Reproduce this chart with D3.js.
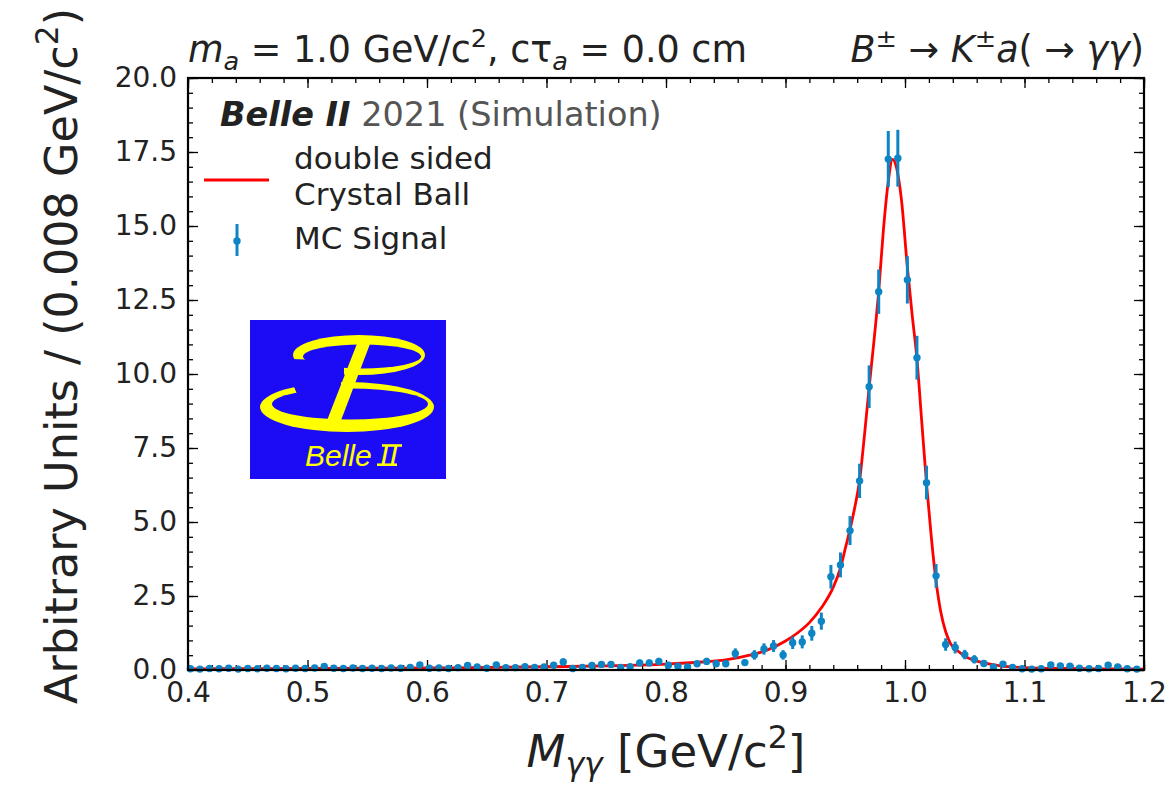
<!DOCTYPE html>
<html>
<head>
  <meta charset="utf-8" />
  <title>Belle II - M gamma gamma signal fit</title>
  <script src="https://d3js.org/d3.v7.min.js"></script>
  <style>
    body { margin: 0; background: #fff; }
    text { font-family: "DejaVu Sans", sans-serif; fill: #222; }
  </style>
</head>
<body>
  <div id="chart"></div>
  <script>
    // bin centres of the 0.008 GeV/c2 histogram
    var binCenters = [
      0.402,0.410,0.418,0.426,0.434,0.442,0.450,0.458,0.466,0.474,
      0.482,0.490,0.498,0.506,0.514,0.522,0.530,0.538,0.546,0.554,
      0.562,0.570,0.578,0.586,0.594,0.602,0.610,0.618,0.626,0.634,
      0.642,0.650,0.658,0.666,0.674,0.682,0.690,0.698,0.706,0.714,
      0.722,0.730,0.738,0.746,0.754,0.762,0.770,0.778,0.786,0.794,
      0.802,0.810,0.818,0.826,0.834,0.842,0.850,0.858,0.866,0.874,
      0.882,0.890,0.898,0.906,0.914,0.922,0.930,0.938,0.946,0.954,
      0.962,0.970,0.978,0.986,0.994,1.002,1.010,1.018,1.026,1.034,
      1.042,1.050,1.058,1.066,1.074,1.082,1.090,1.098,1.106,1.114,
      1.122,1.130,1.138,1.146,1.154,1.162,1.170,1.178,1.186,1.194
    ];
    // MC signal (arbitrary units)
    var mcValues = [
      0.04,0.03,0.05,0.04,0.06,0.03,0.05,0.04,0.06,0.05,
      0.04,0.06,0.05,0.07,0.12,0.06,0.05,0.07,0.05,0.06,
      0.05,0.07,0.06,0.09,0.17,0.06,0.07,0.05,0.08,0.15,
      0.10,0.06,0.17,0.08,0.08,0.11,0.09,0.10,0.16,0.27,
      0.05,0.09,0.15,0.19,0.19,0.09,0.11,0.24,0.24,0.29,
      0.16,0.13,0.10,0.21,0.29,0.21,0.21,0.56,0.25,0.51,
      0.71,0.81,0.51,0.92,0.95,1.24,1.65,3.15,3.55,4.71,
      6.39,9.57,12.78,17.26,17.29,13.18,10.55,6.33,3.18,0.86,
      0.76,0.52,0.36,0.22,0.10,0.20,0.09,0.04,0.03,0.04,
      0.17,0.14,0.13,0.06,0.04,0.05,0.16,0.10,0.04,0.03
    ];
    var mcErrors = [
      0.04,0.04,0.05,0.04,0.05,0.04,0.05,0.04,0.05,0.05,
      0.04,0.05,0.05,0.06,0.08,0.05,0.05,0.06,0.05,0.05,
      0.05,0.06,0.05,0.07,0.09,0.05,0.06,0.05,0.06,0.09,
      0.07,0.05,0.09,0.06,0.06,0.07,0.07,0.07,0.09,0.12,
      0.05,0.07,0.09,0.10,0.10,0.07,0.07,0.11,0.11,0.12,
      0.09,0.08,0.07,0.10,0.12,0.10,0.10,0.17,0.11,0.16,
      0.19,0.20,0.16,0.21,0.22,0.25,0.29,0.40,0.42,0.49,
      0.58,0.72,0.75,0.95,0.96,0.80,0.74,0.57,0.40,0.21,
      0.20,0.16,0.14,0.11,0.07,0.10,0.07,0.05,0.04,0.05,
      0.09,0.08,0.08,0.05,0.05,0.05,0.09,0.07,0.05,0.04
    ];
    // double sided Crystal Ball fit
    var fitX = [0.40,0.45,0.50,0.55,0.60,0.65,0.70,0.75,0.80,0.83,0.85,0.87,0.885,0.90,0.91,0.92,0.93,0.94,
      0.946,0.95,0.954,0.958,0.962,0.966,0.970,0.974,0.978,0.982,0.986,0.9895,0.993,0.997,1.002,1.006,
      1.010,1.014,1.018,1.022,1.026,1.030,1.034,1.038,1.044,1.052,1.060,1.068,1.080,1.100,1.130,1.160,1.200];
    var fitY = [0.04,0.045,0.05,0.06,0.07,0.085,0.11,0.14,0.20,0.27,0.34,0.50,0.68,0.98,1.25,1.6,2.1,2.8,
      3.45,4.1,4.75,5.5,6.4,7.9,9.55,11.1,12.8,14.9,16.5,17.25,16.95,15.9,13.6,12.0,
      10.5,8.4,6.3,4.5,3.0,1.95,1.3,0.9,0.65,0.42,0.3,0.22,0.14,0.08,0.05,0.04,0.03];

    var xTicks = [0.4, 0.5, 0.6, 0.7, 0.8, 0.9, 1.0, 1.1, 1.2];
    var yTicks = [0, 2.5, 5, 7.5, 10, 12.5, 15, 17.5, 20];

    var W = 1169, H = 785;
    var pL = 188, pR = 1144, pT = 78, pB = 670;
    var blue = "#0d84c3", red = "#ff0000";

    var svg = d3.select("#chart").append("svg")
      .attr("width", W).attr("height", H);

    var x = d3.scaleLinear().domain([0.4, 1.2]).range([pL, pR]);
    var y = d3.scaleLinear().domain([0, 20]).range([pB, pT]);

    function styleAxis(g) {
      g.select(".domain").remove();
      g.attr("font-size", 28).attr("font-family", "DejaVu Sans, sans-serif");
      g.selectAll(".tick line").attr("stroke", "#000").attr("stroke-width", 1.3);
      g.selectAll(".tick text").attr("fill", "#222");
    }

    // minor ticks
    var xMinor = x.ticks(40), yMinor = y.ticks(40);
    svg.append("g").attr("transform", "translate(0," + pB + ")")
      .call(d3.axisBottom(x).tickValues(xMinor).tickSize(-5).tickFormat(""))
      .call(styleAxis);
    svg.append("g").attr("transform", "translate(0," + pT + ")")
      .call(d3.axisTop(x).tickValues(xMinor).tickSize(-5).tickFormat(""))
      .call(styleAxis);
    svg.append("g").attr("transform", "translate(" + pL + ",0)")
      .call(d3.axisLeft(y).tickValues(yMinor).tickSize(-5).tickFormat(""))
      .call(styleAxis);
    svg.append("g").attr("transform", "translate(" + pR + ",0)")
      .call(d3.axisRight(y).tickValues(yMinor).tickSize(-5).tickFormat(""))
      .call(styleAxis);

    // major ticks
    svg.append("g").attr("transform", "translate(0," + pB + ")")
      .call(d3.axisBottom(x).tickValues(xTicks).tickSize(-10).tickPadding(12).tickFormat(d3.format(".1f")))
      .call(styleAxis);
    svg.append("g").attr("transform", "translate(0," + pT + ")")
      .call(d3.axisTop(x).tickValues(xTicks).tickSize(-10).tickFormat(""))
      .call(styleAxis);
    svg.append("g").attr("transform", "translate(" + pL + ",0)")
      .call(d3.axisLeft(y).tickValues(yTicks).tickSize(-10).tickPadding(11).tickFormat(d3.format(".1f")))
      .call(styleAxis);
    svg.append("g").attr("transform", "translate(" + pR + ",0)")
      .call(d3.axisRight(y).tickValues(yTicks).tickSize(-10).tickFormat(""))
      .call(styleAxis);

    // fit curve
    var line = d3.line()
      .x(function (d, i) { return x(fitX[i]); })
      .y(function (d) { return y(d); })
      .curve(d3.curveMonotoneX);
    svg.append("path")
      .datum(fitY)
      .attr("fill", "none")
      .attr("stroke", red)
      .attr("stroke-width", 2.8)
      .attr("d", line);

    // MC points with error bars
    var pts = svg.append("g");
    pts.selectAll(".err").data(mcValues).enter().append("line")
      .attr("class", "err")
      .attr("x1", function (d, i) { return x(binCenters[i]); })
      .attr("x2", function (d, i) { return x(binCenters[i]); })
      .attr("y1", function (d, i) { return y(d - mcErrors[i]); })
      .attr("y2", function (d, i) { return y(d + mcErrors[i]); })
      .attr("stroke", blue).attr("stroke-width", 3);
    pts.selectAll(".dot").data(mcValues).enter().append("circle")
      .attr("class", "dot")
      .attr("cx", function (d, i) { return x(binCenters[i]); })
      .attr("cy", function (d) { return y(d); })
      .attr("r", 3.7)
      .attr("fill", blue);

    // frame
    svg.append("rect")
      .attr("x", pL).attr("y", pT)
      .attr("width", pR - pL).attr("height", pB - pT)
      .attr("fill", "none").attr("stroke", "#000").attr("stroke-width", 2.2);

    // text with sub/superscripts
    function mathText(t, parts, size, subShift) {
      var cur = 0;
      parts.forEach(function (p) {
        var s = t.append("tspan").text(p.t);
        var shift = 0;
        if (p.sub) { s.attr("font-size", size * 0.7); shift = size * (subShift || 0.22); }
        if (p.sup) { s.attr("font-size", size * 0.7); shift = -size * 0.42; }
        if (shift - cur !== 0) s.attr("dy", shift - cur);
        cur = shift;
        if (p.i) s.attr("font-style", "italic");
      });
    }

    var tSize = 36.5;
    var t1 = svg.append("text").attr("x", pL).attr("y", 62).attr("font-size", tSize);
    mathText(t1, [{t: "m", i: 1}, {t: "a", i: 1, sub: 1}, {t: " = 1.0 GeV/c"}, {t: "2", sup: 1},
      {t: ", cτ"}, {t: "a", i: 1, sub: 1}, {t: " = 0.0 cm"}], tSize);

    var t2 = svg.append("text").attr("x", pR).attr("y", 62).attr("font-size", tSize)
      .attr("text-anchor", "end");
    mathText(t2, [{t: "B", i: 1}, {t: "±", sup: 1}, {t: " → "}, {t: "K", i: 1}, {t: "±", sup: 1},
      {t: "a", i: 1}, {t: "( → "}, {t: "γγ", i: 1}, {t: ")"}], tSize);

    var xl = svg.append("text").attr("x", (pL + pR) / 2).attr("y", 767)
      .attr("font-size", 45).attr("text-anchor", "middle");
    mathText(xl, [{t: "M", i: 1}, {t: "γγ", i: 1, sub: 1}, {t: " [GeV/c"}, {t: "2", sup: 1}, {t: "]"}], 45, 0.17);

    var yl = svg.append("text")
      .attr("transform", "translate(77,356) rotate(-90)")
      .attr("font-size", 44.5).attr("text-anchor", "middle");
    mathText(yl, [{t: "Arbitrary Units / (0.008 GeV/c"}, {t: "2", sup: 1}, {t: ")"}], 44.5);

    // legend
    var lg = svg.append("g");
    var hdr = lg.append("text").attr("x", 220).attr("y", 126).attr("font-size", 33.5);
    hdr.append("tspan").attr("font-weight", "bold").attr("font-style", "italic").text("Belle II");
    hdr.append("tspan").attr("fill", "#555").text(" 2021 (Simulation)");

    lg.append("line").attr("x1", 204).attr("x2", 269).attr("y1", 180).attr("y2", 180)
      .attr("stroke", red).attr("stroke-width", 2.8);
    lg.append("text").attr("x", 294).attr("y", 169).attr("font-size", 31).text("double sided");
    lg.append("text").attr("x", 294).attr("y", 205).attr("font-size", 31).text("Crystal Ball");

    lg.append("line").attr("x1", 237).attr("x2", 237).attr("y1", 224).attr("y2", 256)
      .attr("stroke", blue).attr("stroke-width", 3);
    lg.append("circle").attr("cx", 237).attr("cy", 241).attr("r", 3.7).attr("fill", blue);
    lg.append("text").attr("x", 294).attr("y", 249).attr("font-size", 31).text("MC Signal");

    // Belle II logo: yellow rings painted over with background blue to open them
    var logo = svg.append("g");
    var yellow = "#ffff00", logoBlue = "#1c0cf6";
    logo.append("rect").attr("x", 250).attr("y", 320).attr("width", 196).attr("height", 159)
      .attr("fill", logoBlue);
    // lower loop
    logo.append("ellipse").attr("cx", 347).attr("cy", 407).attr("rx", 87).attr("ry", 25).attr("fill", yellow);
    logo.append("ellipse").attr("cx", 350).attr("cy", 404).attr("rx", 78).attr("ry", 15.5).attr("fill", logoBlue);
    logo.append("path").attr("d", "M 286 368 L 341 368 L 341 401 L 300 401 Z").attr("fill", logoBlue);
    // upper loop
    logo.append("ellipse").attr("cx", 359).attr("cy", 355).attr("rx", 66).attr("ry", 20).attr("fill", yellow);
    logo.append("ellipse").attr("cx", 362).attr("cy", 356.5).attr("rx", 59).attr("ry", 12).attr("fill", logoBlue);
    logo.append("path").attr("d", "M 292 359 L 344 361 L 344 380 L 292 380 Z").attr("fill", logoBlue);
    // diagonal stem
    logo.append("path").attr("d", "M 360 336 L 373 336 L 340 423 L 326 423 Z").attr("fill", yellow);
    logo.append("text").attr("x", 305).attr("y", 466)
      .attr("font-size", 30).attr("font-style", "italic")
      .style("fill", yellow).style("font-family", "Liberation Sans, sans-serif")
      .text("Belle");
    logo.append("text").attr("x", 380).attr("y", 466)
      .attr("font-size", 30).attr("font-style", "italic").attr("letter-spacing", 1)
      .style("fill", yellow).style("font-family", "Liberation Sans, sans-serif")
      .text("II");
    // serif bars of the roman numeral
    logo.append("line").attr("x1", 382).attr("x2", 402).attr("y1", 445.5).attr("y2", 445.5)
      .attr("stroke", yellow).attr("stroke-width", 2.6);
    logo.append("line").attr("x1", 377).attr("x2", 397).attr("y1", 464.7).attr("y2", 464.7)
      .attr("stroke", yellow).attr("stroke-width", 2.6);
  </script>
</body>
</html>
